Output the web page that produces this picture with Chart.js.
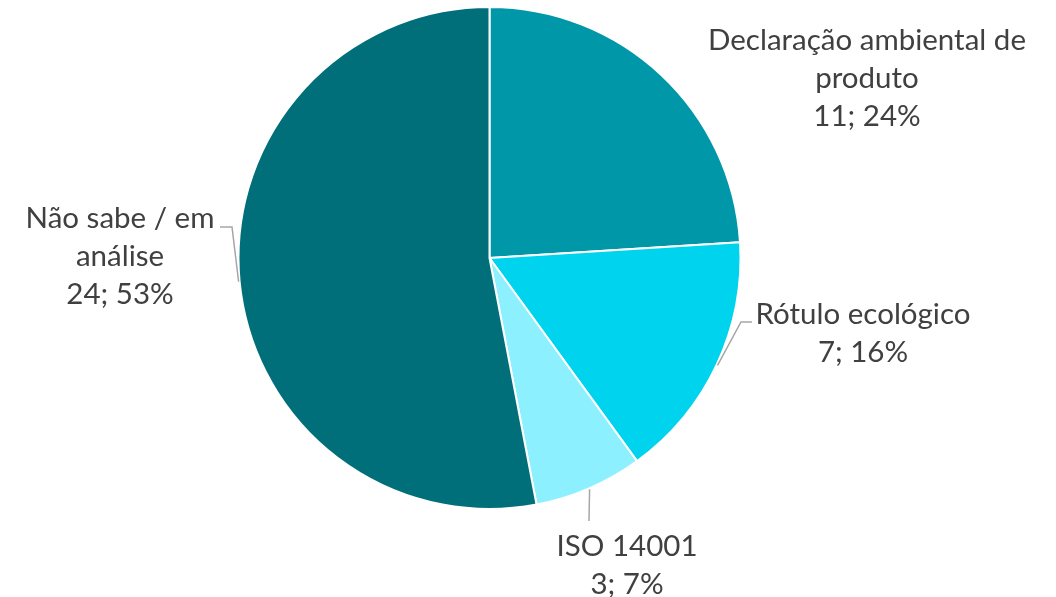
<!DOCTYPE html>
<html>
<head>
<meta charset="utf-8">
<script src="https://cdn.jsdelivr.net/npm/chart.js@4/dist/chart.umd.min.js"></script>
<style>
    html, body { margin: 0; padding: 0; background: #fff; }
    #wrap { width: 1056px; height: 597px; position: relative; }
</style>
</head>
<body>
<div id="wrap"><canvas id="pie-chart"></canvas></div>
<script>
const categories = [
    ['Declaração ambiental de', 'produto'],
    ['Rótulo ecológico'],
    ['ISO 14001'],
    ['Não sabe / em', 'análise']
];
const counts = [11, 7, 3, 24];
// slice sizes as drawn follow the rounded shares
const shares = [24, 16, 7, 53];
const sliceColors = ['#0097A9', '#00D3EE', '#8CF0FE', '#006F79'];

// where each label block sits (centre x, first line y) and its leader line
const labelSpots = [
    { x: 867, y: 40, leader: null },
    { x: 863, y: 314, leader: [[741, 322], [752, 322]] },
    { x: 627, y: 546, leader: [[589, 521]] },
    { x: 120, y: 218, leader: [[232, 227], [220, 227]] }
];

const labelPlugin = {
    id: 'sliceLabels',
    afterDatasetsDraw(chart) {
        const ctx = chart.ctx;
        const arcs = chart.getDatasetMeta(0).data;
        ctx.save();
        arcs.forEach((arc, i) => {
            const spot = labelSpots[i];
            if (spot.leader) {
                const mid = (arc.startAngle + arc.endAngle) / 2;
                const r = arc.outerRadius + 1;
                ctx.beginPath();
                ctx.moveTo(arc.x + Math.cos(mid) * r, arc.y + Math.sin(mid) * r);
                spot.leader.forEach(p => ctx.lineTo(p[0], p[1]));
                ctx.strokeStyle = '#A6A6A6';
                ctx.lineWidth = 1.5;
                ctx.stroke();
            }
            const lines = categories[i].concat([`${counts[i]}; ${shares[i]}%`]);
            ctx.fillStyle = '#404040';
            ctx.font = '29.5px Lato, "Open Sans", sans-serif';
            ctx.textAlign = 'center';
            ctx.textBaseline = 'middle';
            lines.forEach((line, k) => {
                ctx.fillText(line, spot.x, spot.y + k * 38);
            });
        });
        ctx.restore();
    }
};

new Chart(document.getElementById('pie-chart').getContext('2d'), {
    type: 'pie',
    data: {
        labels: categories.map(c => c.join(' ')),
        datasets: [{
            data: shares,
            backgroundColor: sliceColors,
            borderColor: '#ffffff',
            borderWidth: 2
        }]
    },
    options: {
        responsive: true,
        maintainAspectRatio: false,
        animation: false,
        layout: {
            padding: { top: 6, bottom: 87, left: 237, right: 314 }
        },
        plugins: {
            legend: { display: false },
            tooltip: { enabled: false }
        }
    },
    plugins: [labelPlugin]
});
</script>
</body>
</html>
